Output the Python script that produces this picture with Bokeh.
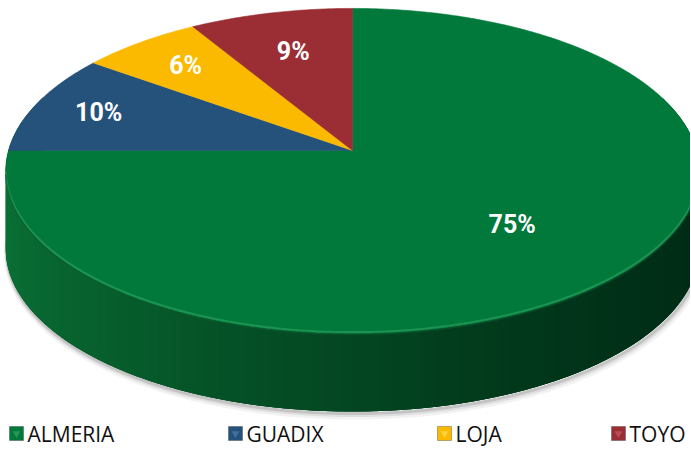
import numpy as np
from bokeh.plotting import figure
from bokeh.models import Range1d, ColumnDataSource
from bokeh.embed import file_html
from bokeh.resources import INLINE
from bokeh.core.properties import value

# ---- data ----
categories = ["ALMERIA", "GUADIX", "LOJA", "TOYO"]
values = [75.0, 10.0, 6.4, 8.6]
colors = ["#00793B", "#25527A", "#FBBA00", "#9B2D34"]
legend_bevel = ["#2E9E5C", "#4A78A3", "#FFD84D", "#C2565E"]

# ---- layout / style constants ----
label_radius = [0.62, 0.80, 0.77, 0.70]
legend_x = [9, 228, 437, 611]
legend_y = 433
CX, CY = 352.0, 150.0
KX, KY = 344.0, 160.0
D = 7.92
DEPTH = 78.0
SIDE_LIGHT = np.array([0x0A, 0x70, 0x35])
SIDE_DARK = np.array([0x00, 0x2C, 0x16])


def project(theta, r=1.0):
    X = r * np.sin(theta)
    w = r * np.cos(theta)
    s = D / (D + w)
    return CX + KX * X * s, CY - KY * w * s


p = figure(width=690, height=449, x_range=Range1d(0, 690), y_range=Range1d(449, 0),
           output_backend="svg", toolbar_location=None, min_border=0,
           x_axis_type=None, y_axis_type=None)
p.grid.visible = False
p.outline_line_color = None
p.background_fill_color = "white"

# ---- soft shadow under the side ----
th = np.radians(np.linspace(60, 300, 241))
sx, sy = project(th)
for off, lw, a in [(4, 8, 0.05), (3, 5, 0.08), (2, 3, 0.12)]:
    p.line(sx + off * 0.5, sy + DEPTH + off, line_color="black", line_width=lw, line_alpha=a)

# ---- side wall (front): base shape, then gradient strips ----
full = np.radians(np.linspace(70, 290, 441))
fx, fy = project(full)
p.patch(list(fx) + list(fx[::-1]), list(fy) + list(fy[::-1] + DEPTH),
        fill_color="#00451F", line_color=None)

edges = np.radians(np.linspace(70, 290, 111))
ex, ey = project(edges)
xs, ys, cols = [], [], []
for i in range(len(edges) - 1):
    j = min(i + 2, len(edges) - 1)  # overlap to avoid seams
    xs.append([ex[i], ex[j], ex[j], ex[i]])
    ys.append([ey[i], ey[j], ey[j] + DEPTH, ey[i] + DEPTH])
    xm = 0.5 * (ex[i] + ex[i + 1])
    t = np.clip((xm - 8) / (696 - 8), 0, 1) ** 0.7
    c = (SIDE_LIGHT * (1 - t) + SIDE_DARK * t).astype(int)
    cols.append("#%02x%02x%02x" % tuple(c))
p.patches(xs, ys, fill_color=cols, line_color=None)

# ---- top face slices ----
total = sum(values)
angles = np.cumsum([0] + values) / total * 2 * np.pi
wx, wy = [], []
for a0, a1 in zip(angles[:-1], angles[1:]):
    n = max(int(np.degrees(a1 - a0) * 2), 4)
    t = np.linspace(a0, a1, n)
    ax, ay = project(t)
    wx.append([CX] + list(ax))
    wy.append([CY] + list(ay))
p.patches(wx, wy, fill_color=colors, line_color=colors, line_width=0.6)

# bevel highlight along the front rim
rim = np.radians(np.linspace(100, 262, 200))
rx, ry = project(rim)
p.line(rx, ry - 1.5, line_color="#3AAE6A", line_width=2, line_alpha=0.5)
p.line(rx, ry + 1, line_color="#0E5A2E", line_width=1.5, line_alpha=0.6)

# ---- data labels ----
mids = 0.5 * (angles[:-1] + angles[1:])
lx, ly = [], []
for m, r in zip(mids, label_radius):
    x, y = project(m, r)
    lx.append(x)
    ly.append(y)
labels = ["%d%%" % round(v / total * 100) for v in values]
src = ColumnDataSource(dict(x=lx, y=ly, text=labels))
p.text("x", "y", text="text", source=src, text_color="white",
       text_font=value("Roboto"), text_font_style="bold",
       text_font_size="25px", text_align="center", text_baseline="middle")

# ---- legend ----
lsrc = ColumnDataSource(dict(x=[v + 7 for v in legend_x], tx=[v + 18 for v in legend_x],
                             y=[legend_y] * 4, c=colors, b=legend_bevel, name=categories))
p.scatter("x", "y", source=lsrc, marker="square", size=14, fill_color="c",
          line_color="#333333", line_alpha=0.35, line_width=1)
p.scatter("x", "y", source=lsrc, marker="inverted_triangle", size=8, fill_color="b",
          line_color=None, fill_alpha=0.8)
p.text("tx", "y", text="name", source=lsrc, text_color="#111111",
       text_font=value("Open Sans"), text_font_size="21px",
       text_align="left", text_baseline="middle")

open("out.html", "w").write(file_html(p, INLINE))
